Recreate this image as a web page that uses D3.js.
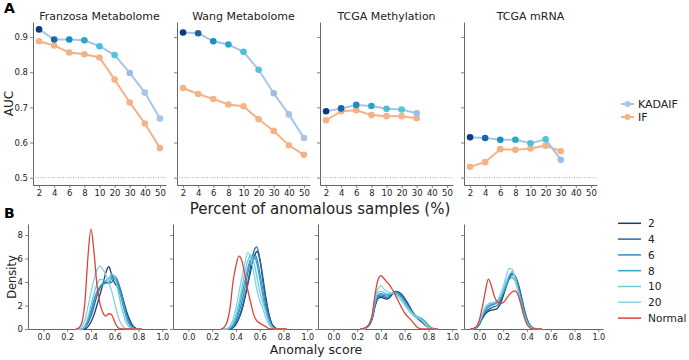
<!DOCTYPE html>
<html><head><meta charset="utf-8">
<script src="https://cdn.jsdelivr.net/npm/d3@7"></script>
<style>body{margin:0;background:#fff} svg{display:block} text{font-family:"DejaVu Sans",sans-serif}</style>
</head><body><svg id="c" width="689" height="360"></svg>
<script>
// ---------- DATA ----------
const pctCats = ["2","4","6","8","10","20","30","40","50"];
const datasetNames = ["Franzosa Metabolome","Wang Metabolome","TCGA Methylation","TCGA mRNA"];
const aucTicks = [0.5,0.6,0.7,0.8,0.9];

const kadaifAUC = [
  [0.922,0.893,0.893,0.891,0.874,0.849,0.798,0.742,0.668],
  [0.913,0.911,0.888,0.879,0.858,0.807,0.740,0.680,0.613],
  [0.689,0.697,0.707,0.704,0.696,0.694,0.683],
  [0.615,0.613,0.608,0.608,0.598,0.609,0.551]
];
const ifAUC = [
  [0.888,0.876,0.856,0.851,0.842,0.779,0.714,0.654,0.584],
  [0.755,0.738,0.724,0.708,0.703,0.666,0.633,0.592,0.565],
  [0.663,0.689,0.692,0.678,0.675,0.675,0.669],
  [0.531,0.544,0.581,0.579,0.583,0.591,0.575]
];
const kadaifPointColors = ["#0b3a7e","#1866a9","#1c8fc2","#27a7cc","#4bbfd9","#55c3dc","#9dbde5","#a6c5e8","#a6c5e8"];

const densitySeries = ["2","4","6","8","10","20","Normal"];
const densityColors = ["#1f3b6e","#266aa2","#2d8fc0","#36a6c9","#6fc8dc","#86d1e2","#d9443a"];
const scoreTicks = [0.0,0.2,0.4,0.6,0.8,1.0];
const densityTicks = [0,2,4,6,8];

const gridFranzosa = [0.275,0.3,0.325,0.35,0.375,0.4,0.425,0.45,0.475,0.5,0.525,0.55,0.575,0.6,0.625,0.65,0.675,0.7,0.725,0.75,0.775,0.8,0.825];
const densFranzosa = [
  [0,0,0,0,0.2,0.6,1.2,2.0,2.9,3.8,4.8,5.3,4.6,3.9,3.6,3.2,2.4,1.5,0.8,0.3,0.08,0,0],
  [0,0,0,0.15,0.5,1.1,1.9,2.8,3.5,3.9,4.0,3.9,4.0,4.3,3.9,3.3,2.3,1.3,0.6,0.2,0.05,0,0],
  [0,0,0,0.2,0.7,1.4,2.3,3.0,3.5,3.8,3.9,4.0,4.3,4.5,4.1,3.3,2.2,1.2,0.5,0.15,0,0,0],
  [0,0,0,0.25,0.8,1.6,2.5,3.2,3.6,3.9,4.1,4.3,4.4,4.3,3.7,2.8,1.8,0.9,0.35,0.1,0,0,0],
  [0,0,0,0.3,1.0,2.0,3.0,3.8,4.2,4.2,4.1,4.3,4.7,4.4,3.4,2.2,1.2,0.5,0.15,0,0,0,0],
  [0,0,0.2,0.8,1.9,3.1,4.2,5.0,5.35,5.1,4.6,3.9,3.2,2.2,1.2,0.5,0.15,0,0,0,0,0,0],
  [0,0.1,0.6,2.4,6.2,8.5,6.6,3.8,2.2,1.4,1.1,1.3,1.2,0.6,0.15,0.02,0,0,0,0,0,0,0]
];
const gridWang = [0.275,0.3,0.325,0.35,0.375,0.4,0.425,0.45,0.475,0.5,0.525,0.55,0.575,0.6,0.625,0.65,0.675,0.7,0.725,0.75,0.775,0.8,0.825];
const densWang = [
  [0,0,0,0,0.1,0.4,0.9,1.6,2.6,3.8,5.0,6.0,6.6,6.0,4.5,2.8,1.4,0.5,0.15,0,0,0,0],
  [0,0,0,0,0.15,0.5,1.0,1.8,2.8,4.0,5.4,6.6,7.0,6.0,4.2,2.5,1.2,0.45,0.1,0,0,0,0],
  [0,0,0,0.05,0.25,0.7,1.4,2.3,3.5,4.8,5.9,6.4,6.0,4.8,3.4,2.0,0.9,0.3,0.05,0,0,0,0],
  [0,0,0,0.1,0.35,0.9,1.8,2.9,4.1,5.2,6.0,6.2,5.6,4.3,2.9,1.6,0.7,0.2,0.05,0,0,0,0],
  [0,0,0,0.15,0.5,1.2,2.2,3.5,4.8,5.8,6.3,5.7,4.5,3.2,2.3,1.5,0.7,0.2,0,0,0,0,0],
  [0,0,0.05,0.25,0.8,1.8,3.1,4.4,5.6,6.5,6.0,4.8,3.4,2.4,1.8,1.0,0.4,0.1,0,0,0,0,0],
  [0,0.15,0.6,1.8,4.0,5.4,6.2,5.8,4.6,3.3,2.2,1.2,0.7,0.5,0.35,0.2,0.05,0,0,0,0,0,0]
];
const gridMethylation = [0.225,0.25,0.275,0.3,0.325,0.35,0.375,0.4,0.425,0.45,0.475,0.5,0.525,0.55,0.575,0.6,0.625,0.65,0.675,0.7,0.725,0.75,0.775,0.8,0.825,0.85,0.875];
const densMethylation = [
  [0,0,0.08,0.3,0.8,1.9,2.6,2.7,2.6,2.55,2.7,3.0,3.2,3.15,2.95,2.6,2.2,1.75,1.3,0.95,0.75,0.55,0.3,0.12,0.03,0,0],
  [0,0,0.1,0.35,0.9,2.0,2.7,2.8,2.75,2.65,2.8,3.1,3.2,3.1,2.85,2.5,2.1,1.7,1.35,1.05,0.9,0.8,0.55,0.25,0.08,0,0],
  [0,0,0.1,0.35,0.9,2.1,2.8,2.9,2.85,2.8,2.9,3.1,3.15,3.0,2.75,2.4,2.0,1.6,1.25,1.0,0.9,0.85,0.6,0.3,0.1,0.02,0],
  [0,0,0.1,0.4,1.0,2.2,2.9,3.0,2.95,2.9,2.95,3.05,3.05,2.9,2.65,2.3,1.9,1.55,1.25,1.05,0.95,0.85,0.55,0.25,0.08,0,0],
  [0,0,0.12,0.4,1.1,2.4,3.1,3.2,3.1,3.0,3.0,3.05,3.0,2.8,2.5,2.15,1.8,1.5,1.25,1.1,1.0,0.85,0.5,0.2,0.05,0,0],
  [0,0,0.12,0.45,1.2,2.7,3.4,3.7,3.4,3.2,3.1,3.05,2.9,2.65,2.35,2.0,1.65,1.35,1.1,0.95,0.85,0.65,0.35,0.12,0.03,0,0],
  [0,0.05,0.15,0.4,1.1,2.9,4.2,4.55,4.3,4.0,3.7,3.3,2.8,2.3,1.8,1.35,1.05,0.8,0.5,0.2,0.05,0,0,0,0,0,0]
];
const gridMRNA = [-0.075,-0.05,-0.025,0,0.025,0.05,0.075,0.1,0.125,0.15,0.175,0.2,0.225,0.25,0.275,0.3,0.325,0.35,0.375,0.4,0.425,0.45,0.475,0.5,0.525];
const densMRNA = [
  [0,0,0.1,0.4,0.9,1.3,1.5,1.6,1.65,1.75,2.1,2.8,3.6,4.3,4.75,4.5,3.8,2.8,1.7,0.8,0.3,0.08,0,0,0],
  [0,0,0.12,0.45,1.0,1.45,1.65,1.8,1.9,2.0,2.4,3.0,3.7,4.3,4.6,4.5,3.9,2.9,1.8,0.9,0.35,0.1,0.02,0,0],
  [0,0.02,0.15,0.5,1.1,1.6,1.85,2.0,2.1,2.25,2.6,3.2,3.9,4.5,4.7,4.4,3.6,2.6,1.6,0.75,0.3,0.08,0,0,0],
  [0,0.02,0.15,0.55,1.15,1.65,1.95,2.1,2.2,2.3,2.6,3.1,3.7,4.2,4.4,4.1,3.4,2.5,1.5,0.7,0.25,0.06,0,0,0],
  [0,0.03,0.18,0.6,1.25,1.8,2.05,2.2,2.25,2.35,2.7,3.3,4.0,4.6,4.9,4.4,3.4,2.3,1.3,0.6,0.2,0.05,0,0,0],
  [0,0.03,0.2,0.65,1.3,1.9,2.15,2.25,2.3,2.45,2.9,3.6,4.5,5.15,5.1,4.2,3.1,2.0,1.1,0.45,0.15,0.03,0,0,0],
  [0,0.05,0.2,0.8,1.9,3.2,4.25,3.7,2.8,2.3,2.15,2.25,2.55,2.9,3.15,3.25,2.9,2.1,1.1,0.4,0.1,0,0,0,0]
];
const densityGrids = [gridFranzosa, gridWang, gridMethylation, gridMRNA];
const densityValues = [densFranzosa, densWang, densMethylation, densMRNA];

// ---------- STYLE ----------
const kadaifLine = "#a6c5e8", ifColor = "#f4b386";
const spine = "#666", txt = "#222";

const svg = d3.select("#c");

function styleAxis(g, fs) {
  g.select(".domain").attr("stroke", spine).attr("stroke-width", 1);
  g.selectAll(".tick line").attr("stroke", spine).attr("stroke-width", 0.8);
  g.selectAll(".tick text").attr("fill", txt).style("font-size", fs + "px").style("font-family", '"DejaVu Sans",sans-serif');
}

// ---------- PANEL A ----------
const aLefts = [33,177,320,464], aW = 133, aTop = 22, aBot = 185;
const yA = d3.scaleLinear().domain([0.479,0.943]).range([aBot,aTop]);

datasetNames.forEach((name, i) => {
  const L = aLefts[i];
  const x = d3.scaleLinear().domain([-0.4, 8.4]).range([L, L + aW]);
  const g = svg.append("g");
  const gx = g.append("g").attr("transform", `translate(0,${aBot})`)
    .call(d3.axisBottom(x).tickValues(d3.range(pctCats.length)).tickFormat(j => pctCats[j]).tickSize(3).tickSizeOuter(0).tickPadding(2));
  styleAxis(gx, 8.5);
  const gy = g.append("g").attr("transform", `translate(${L},0)`)
    .call(d3.axisLeft(yA).tickValues(aucTicks).tickFormat(i === 0 ? d3.format(".1f") : () => "").tickSize(3).tickSizeOuter(0).tickPadding(2));
  styleAxis(gy, 8.5);

  g.append("line").attr("x1", L).attr("x2", L + aW).attr("y1", yA(0.5)).attr("y2", yA(0.5))
    .attr("stroke", "#999").attr("stroke-width", 0.8).attr("stroke-dasharray", "1,1.5");

  const line = d3.line().x((d, j) => x(j)).y(d => yA(d));
  g.append("path").datum(ifAUC[i]).attr("d", line).attr("fill", "none").attr("stroke", ifColor).attr("stroke-width", 2);
  g.selectAll(".ifp").data(ifAUC[i]).join("circle").attr("cx", (d, j) => x(j)).attr("cy", d => yA(d)).attr("r", 3.3).attr("fill", ifColor);
  g.append("path").datum(kadaifAUC[i]).attr("d", line).attr("fill", "none").attr("stroke", kadaifLine).attr("stroke-width", 2);
  g.selectAll(".kp").data(kadaifAUC[i]).join("circle").attr("cx", (d, j) => x(j)).attr("cy", d => yA(d)).attr("r", 3.3).attr("fill", (d, j) => kadaifPointColors[j]);

  g.append("text").attr("x", L + aW / 2).attr("y", 20).attr("text-anchor", "middle").attr("fill", txt).style("font-size", "11px").text(name);
});

svg.append("text").attr("transform", `translate(13,${(aTop + aBot) / 2}) rotate(-90)`).attr("text-anchor", "middle").attr("fill", txt).style("font-size", "12px").text("AUC");
svg.append("text").attr("x", 320).attr("y", 214).attr("text-anchor", "middle").attr("fill", txt).style("font-size", "15px").text("Percent of anomalous samples (%)");
svg.append("text").attr("x", 4).attr("y", 13).attr("fill", "#000").style("font-size", "14px").style("font-weight", "bold").text("A");

// legend A
[["KADAIF", kadaifLine], ["IF", ifColor]].forEach(([lab, col], k) => {
  const yy = 104 + k * 13;
  svg.append("line").attr("x1", 621).attr("x2", 634).attr("y1", yy).attr("y2", yy).attr("stroke", col).attr("stroke-width", 2);
  svg.append("circle").attr("cx", 627.5).attr("cy", yy).attr("r", 3).attr("fill", col);
  svg.append("text").attr("x", 638).attr("y", yy).attr("dy", "0.36em").attr("fill", txt).style("font-size", "11px").text(lab);
});

// ---------- PANEL B ----------
const bLefts = [28,173,318,464], bW = 139, bTop = 224, bBot = 329;
const yB = d3.scaleLinear().domain([0, 8.94]).range([bBot, bTop]);

datasetNames.forEach((name, i) => {
  const L = bLefts[i];
  const x = d3.scaleLinear().domain([-0.13, 1.04]).range([L, L + bW]);
  const g = svg.append("g");
  const gx = g.append("g").attr("transform", `translate(0,${bBot})`)
    .call(d3.axisBottom(x).tickValues(scoreTicks).tickFormat(d3.format(".1f")).tickSize(3).tickSizeOuter(0).tickPadding(2));
  styleAxis(gx, 8);
  const gy = g.append("g").attr("transform", `translate(${L},0)`)
    .call(d3.axisLeft(yB).tickValues(densityTicks).tickFormat(i === 0 ? d3.format("d") : () => "").tickSize(3).tickSizeOuter(0).tickPadding(2));
  styleAxis(gy, 8.5);

  const grid = densityGrids[i];
  const line = d3.line().x((d, j) => x(grid[j])).y(d => yB(d)).curve(d3.curveMonotoneX);
  densityValues[i].forEach((vals, s) => {
    g.append("path").datum(vals).attr("d", line).attr("fill", "none")
      .attr("stroke", densityColors[s]).attr("stroke-width", 1.3);
  });
});

svg.append("text").attr("transform", `translate(15.5,277) rotate(-90)`).attr("text-anchor", "middle").attr("fill", txt).style("font-size", "11.5px").text("Density");
svg.append("text").attr("x", 316).attr("y", 354).attr("text-anchor", "middle").attr("fill", txt).style("font-size", "12.5px").text("Anomaly score");
svg.append("text").attr("x", 4).attr("y", 218).attr("fill", "#000").style("font-size", "14px").style("font-weight", "bold").text("B");

// legend B
densitySeries.forEach((lab, k) => {
  const yy = 223.3 + k * 15.8;
  svg.append("line").attr("x1", 618).attr("x2", 641).attr("y1", yy).attr("y2", yy).attr("stroke", densityColors[k]).attr("stroke-width", 1.5);
  svg.append("text").attr("x", 648).attr("y", yy).attr("dy", "0.36em").attr("fill", txt).style("font-size", "10.6px").text(lab);
});
</script></body></html>
